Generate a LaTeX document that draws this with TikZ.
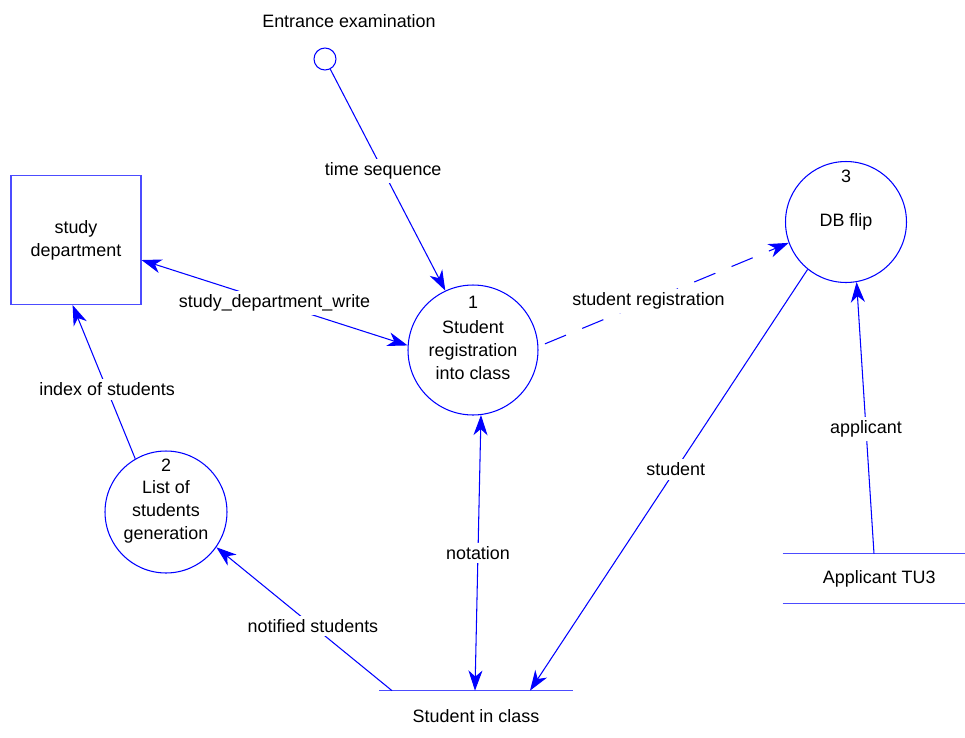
\documentclass[tikz,border=0pt]{standalone}
\usepackage{fontspec}
\setmainfont{Liberation Sans}
\usetikzlibrary{arrows.meta,positioning,calc}

\begin{document}
\begin{tikzpicture}[x=0.02cm,y=-0.02cm,
    font=\fontsize{10.2}{13}\selectfont,
    >={Stealth[length=11.5pt,width=8pt,inset=3.5pt]},
    flow/.style={draw=blue,line width=0.6pt},
    proc/.style={circle,draw=blue,line width=0.6pt,align=center,inner sep=0pt},
    store/.style={inner sep=0pt},
    lbl/.style={fill=white,inner sep=2pt}]
  \useasboundingbox (0,0) rectangle (965,738);
  % Processes
  \node[proc,minimum size=2.6cm] (p1) at (473,350) {Student\\registration\\into class};
  \node (n1) at ($(p1)+(0,-48)$) {1};
  \node[proc,minimum size=2.44cm] (p2) at (166,512) {List of\\students\\generation};
  \node (n2) at ($(p2)+(0,-47)$) {2};
  \node[proc,minimum size=2.42cm] (p3) at (846,222) {DB flip};
  \node (n3) at ($(p3)+(0,-46)$) {3};
  % Terminator and start
  \node[draw=blue!70,line width=0.6pt,minimum width=2.6cm,minimum height=2.58cm,
        align=center] (sd) at (76,240) {study\\department};
  \node[circle,draw=blue,line width=0.6pt,minimum size=0.44cm,inner sep=0pt] (st) at (325,59) {};
  \node (ee) at (349,21) {Entrance examination};
  % Stores
  \node[store,minimum width=3.86cm,minimum height=1cm] (sc) at (476,716) {Student in class};
  \draw[blue!70,line width=0.6pt] (sc.north west) -- (sc.north east);
  \node[store,minimum width=3.64cm,minimum height=0.98cm] (app) at (874,578.5) {\hspace{6pt}Applicant TU3};
  \draw[blue!70,line width=0.6pt] (app.north west) -- (app.north east)
    (app.south west) -- (app.south east);
  % Flows
  \draw[flow,->] (st) -- node[lbl,pos=0.46]{time sequence} (p1.115);
  \draw[flow,<->] (sd.-17) -- node[lbl]{study\_department\_write} (p1.176);
  \draw[flow,->] (p2.120) -- node[lbl,pos=0.45]{index of students} (sd.-93);
  \draw[flow,->] ($(sc.north)+(-84,0)$) -- node[lbl,pos=0.45]{notified students} (p2.-35);
  \draw[flow,<->] ($(sc.north)+(-1,0)$) -- node[lbl]{notation} (p1.-83);
  \draw[flow,->] (p3.231) -- node[lbl,pos=0.475]{student} ($(sc.north)+(54,0)$);
  \draw[flow,->,dash pattern=on 13pt off 10pt,shorten <=4pt] (p1.3)
    -- node[lbl,pos=0.44]{student registration} (p3.200);
  \draw[flow,->] (app.north) -- node[lbl,pos=0.46]{applicant} (p3.-80);
\end{tikzpicture}
\end{document}
